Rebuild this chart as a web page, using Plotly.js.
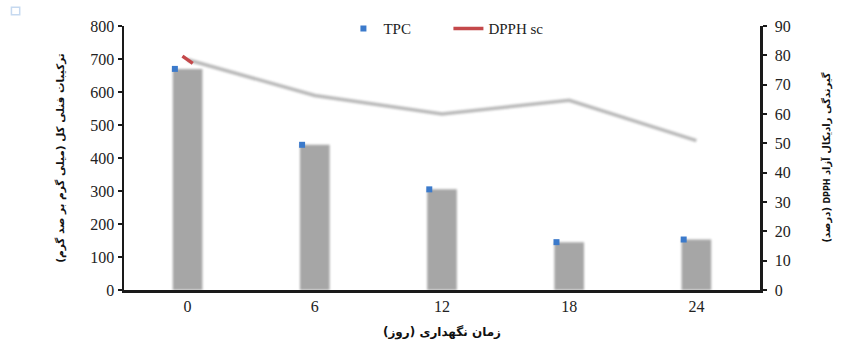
<!DOCTYPE html>
<html>
<head>
<meta charset="utf-8">
<script src="https://cdn.plot.ly/plotly-3.0.1.min.js"></script>
<style>
  html, body { margin: 0; padding: 0; background: #ffffff; }
  #chart { width: 853px; height: 350px; }
  /* soft edges on the bars and on the shaded DPPH line */
  .barlayer .point path { filter: blur(1.3px); }
  .tracedpphshade path.js-line { filter: blur(1.1px); }
  /* keep the legend-only entry at full strength */
  .legend .traces { opacity: 1 !important; }
  /* Persian titles are laid out right-to-left */
  .annotation-text, .g-xtitle text, .g-ytitle text { direction: rtl; unicode-bidi: embed; }
</style>
</head>
<body>
<div id="chart"></div>
<script>
// Storage time (days)
const storageDays = [0, 6, 12, 18, 24];
const dayTickLabels = ['0', '6', '12', '18', '24'];
// Total phenolic content (mg / 100 g)
const tpc = [670, 440, 305, 145, 153];
// DPPH radical scavenging (%)
const dpphSc = [78.5, 66.3, 60.0, 64.7, 50.9];

const tpcTicks = [0, 100, 200, 300, 400, 500, 600, 700, 800];
const dpphTicks = [0, 10, 20, 30, 40, 50, 60, 70, 80, 90];

const markerShift = -0.6;   // TPC markers sit at the left shoulder of each bar
const red = '#c4484a';
const serif = 'Liberation Serif';
const persian = 'DejaVu Sans';
const tickFont = { family: serif, size: 16, color: '#222222' };
const titleFont = { family: persian, size: 10.5, color: '#111111', weight: 'bold' };

const data = [
  {
    type: 'bar', x: storageDays, y: tpc, width: 1.4,
    marker: { color: '#a6a6a6', line: { width: 0 } },
    showlegend: false, hoverinfo: 'skip', yaxis: 'y'
  },
  {
    type: 'scatter', mode: 'markers', name: 'TPC',
    x: storageDays.map(d => d + markerShift), y: tpc,
    marker: { symbol: 'square', size: 6, color: '#3b7acb' },
    yaxis: 'y'
  },
  {
    type: 'scatter', mode: 'lines', uid: 'dpphshade',
    x: storageDays, y: dpphSc,
    line: { color: '#b9b9b9', width: 3.5 },
    showlegend: false, yaxis: 'y2'
  },
  {
    type: 'scatter', mode: 'markers',
    x: storageDays.slice(0, 1), y: dpphSc.slice(0, 1),
    marker: { symbol: 'line-ew', size: 9, angle: 35, line: { color: red, width: 3.5 } },
    showlegend: false, yaxis: 'y2'
  },
  {
    type: 'scatter', mode: 'lines', name: 'DPPH sc',
    x: storageDays, y: dpphSc, visible: 'legendonly',
    line: { color: red, width: 3.5 }, yaxis: 'y2'
  }
];

const layout = {
  width: 853, height: 350,
  margin: { l: 124, r: 93, t: 23, b: 60 },
  paper_bgcolor: '#ffffff', plot_bgcolor: '#ffffff',
  font: { family: serif, size: 15, color: '#222222' },
  xaxis: {
    type: 'linear', range: [-3, 27],
    tickmode: 'array', tickvals: storageDays, ticktext: dayTickLabels,
    showgrid: false, zeroline: false,
    showline: true, linecolor: '#1a1a1a', linewidth: 2.5,
    ticks: '', tickfont: tickFont,
    title: {
      text: 'زمان نگهداری (روز)', standoff: 14,
      font: { family: persian, size: 12, color: '#111111', weight: 'bold' }
    }
  },
  yaxis: {
    range: [0, 800], tickmode: 'array', tickvals: tpcTicks,
    showgrid: false, zeroline: false,
    showline: true, linecolor: '#1a1a1a', linewidth: 2.5,
    ticks: 'outside', ticklen: 4, tickwidth: 2, tickcolor: '#1a1a1a',
    tickfont: tickFont,
    title: {
      text: 'ترکیبات فنلی کل (میلی گرم بر صد گرم)', standoff: 24,
      font: titleFont
    }
  },
  yaxis2: {
    overlaying: 'y', side: 'right',
    range: [0, 90], tickmode: 'array', tickvals: dpphTicks,
    showgrid: false, zeroline: false,
    showline: true, linecolor: '#1a1a1a', linewidth: 2.5,
    ticks: 'outside', ticklen: 4, tickwidth: 2, tickcolor: '#1a1a1a',
    ticklabelstandoff: 5,
    tickfont: tickFont
  },
  annotations: [
    {
      xref: 'paper', yref: 'paper', x: 1.103, y: 0.5,
      xanchor: 'center', yanchor: 'middle', textangle: -90, showarrow: false,
      text: 'گیرندگی رادیکال آزاد <span style="font-size:8px">DPPH</span> (درصد)',
      font: { family: persian, size: 10, color: '#111111', weight: 'bold' }
    }
  ],
  legend: {
    orientation: 'h', x: 0.345, xanchor: 'left', y: 0.99, yanchor: 'middle',
    font: { family: serif, size: 15, color: '#222222' },
    entrywidth: 60, entrywidthmode: 'pixels',
    bgcolor: 'rgba(0,0,0,0)', borderwidth: 0, traceorder: 'normal'
  },
  shapes: [
    {
      type: 'rect', xref: 'paper', yref: 'paper', layer: 'above',
      x0: -0.177, x1: -0.164, y0: 1.043, y1: 1.071,
      line: { color: '#c6d9f0', width: 1.5 }, fillcolor: '#ffffff'
    }
  ],
  showlegend: true
};

Plotly.newPlot('chart', data, layout, { displayModeBar: false, staticPlot: true });
</script>
</body>
</html>
